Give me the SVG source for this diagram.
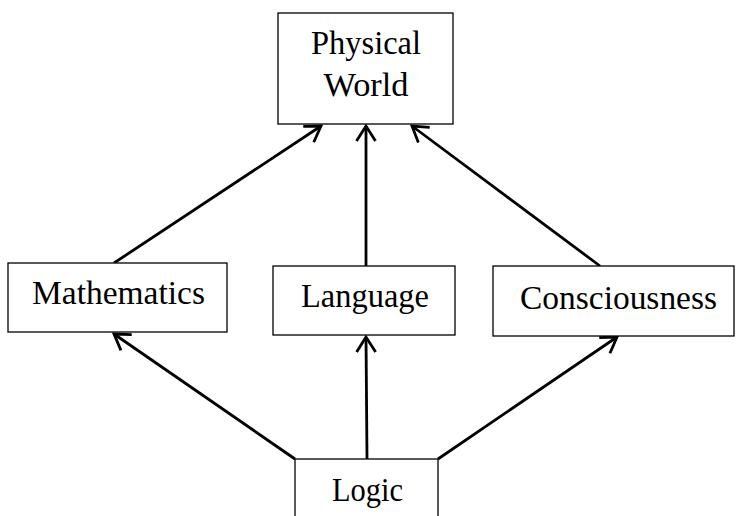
<svg xmlns="http://www.w3.org/2000/svg" width="737" height="516" viewBox="0 0 737 516">
<style>
.box{fill:#fff;stroke:#000;stroke-width:1.3}
.lbl{font-family:"Liberation Serif","DejaVu Serif",serif;font-size:33px;fill:#000;text-anchor:middle}
.edge{stroke:#000;stroke-width:2.8;fill:none}
</style>
<defs>
<marker id="arr" markerUnits="userSpaceOnUse" markerWidth="30" markerHeight="30" viewBox="-20 -15 25 30" refX="0" refY="0" orient="auto">
<path d="M-15,-9.5 L0,0 L-15,9.5" fill="none" stroke="#000" stroke-width="2.8"/>
</marker>
</defs>
<rect width="737" height="516" fill="#fff"/>
<g id="connectors">
<line class="edge" x1="114" y1="263" x2="321" y2="126" marker-end="url(#arr)"/>
<line class="edge" x1="366" y1="266" x2="366" y2="126" marker-end="url(#arr)"/>
<line class="edge" x1="600" y1="266" x2="412" y2="126" marker-end="url(#arr)"/>
<line class="edge" x1="295" y1="459" x2="114" y2="334" marker-end="url(#arr)"/>
<line class="edge" x1="367" y1="459" x2="366" y2="337" marker-end="url(#arr)"/>
<line class="edge" x1="438" y1="459" x2="617" y2="337" marker-end="url(#arr)"/>
</g>
<g id="physical">
<rect class="box" x="278" y="13" width="175" height="111"/>
<text class="lbl" x="366" y="54" textLength="110" lengthAdjust="spacingAndGlyphs">Physical</text>
<text class="lbl" x="366" y="96" textLength="85" lengthAdjust="spacingAndGlyphs">World</text>
</g>
<g id="mathematics">
<rect class="box" x="8" y="263" width="219" height="69"/>
<text class="lbl" x="118.5" y="304" textLength="173" lengthAdjust="spacingAndGlyphs">Mathematics</text>
</g>
<g id="language">
<rect class="box" x="273" y="266" width="182" height="69"/>
<text class="lbl" x="365" y="307" textLength="128" lengthAdjust="spacingAndGlyphs">Language</text>
</g>
<g id="consciousness">
<rect class="box" x="493" y="266" width="241" height="70"/>
<text class="lbl" x="618.5" y="309" textLength="197" lengthAdjust="spacingAndGlyphs">Consciousness</text>
</g>
<g id="logic">
<rect class="box" x="295" y="459" width="143" height="70"/>
<text class="lbl" x="367.5" y="501" textLength="71" lengthAdjust="spacingAndGlyphs">Logic</text>
</g>
</svg>
